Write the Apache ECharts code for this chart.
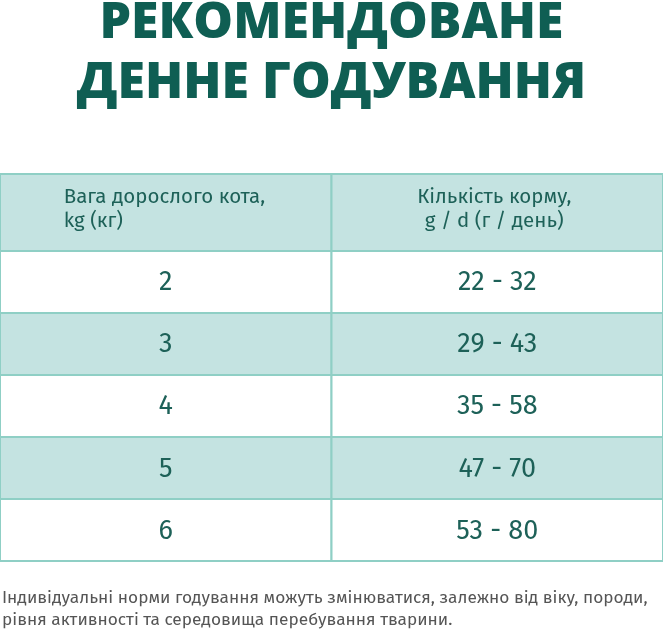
<!DOCTYPE html>
<html><head><meta charset="utf-8">
<script src="https://cdn.jsdelivr.net/npm/echarts@6/dist/echarts.min.js"></script>
<style>html,body{margin:0;padding:0;background:#fff}#c{width:663px;height:630px}</style>
</head><body><div id="c"></div>
<script>
const titleLines = ['РЕКОМЕНДОВАНЕ', 'ДЕННЕ ГОДУВАННЯ'];
const headers = ['Вага дорослого кота,\nkg (кг)', 'Кількість корму,\ng / d (г / день)'];
const weights = ['2', '3', '4', '5', '6'];
const minFood = [22, 29, 35, 47, 53];
const maxFood = [32, 43, 58, 70, 80];
const note = 'Індивідуальні норми годування можуть змінюватися, залежно від віку, породи,\nрівня активності та середовища перебування тварини.';

const HEADER_H = 1.24;
const cells = [];
headers.forEach((h, c) => cells.push([c, 0, HEADER_H, h, 1]));
weights.forEach((w, i) => {
  const y0 = HEADER_H + i, bg = i % 2;
  cells.push([0, y0, y0 + 1, w, bg]);
  cells.push([1, y0, y0 + 1, minFood[i] + ' - ' + maxFood[i], bg]);
});

const teal = '#1d6158';
const chart = echarts.init(document.getElementById('c'));
chart.setOption({
  animation: false,
  title: {
    text: titleLines.join('\n'), left: 'center', top: -11,
    textStyle: { fontFamily: 'Open Sans', fontWeight: 800, fontSize: 50, lineHeight: 60, color: '#0f5e53' }
  },
  graphic: [{
    type: 'text', left: 2, top: 587,
    style: { text: note, fontFamily: 'Fira Sans, Open Sans', fontSize: 17.3, lineHeight: 22, fill: '#555' }
  }],
  grid: { left: 0, right: 0, top: 174, bottom: 69 },
  xAxis: { type: 'value', min: 0, max: 2, show: false },
  yAxis: { type: 'value', min: 0, max: HEADER_H + 5, inverse: true, show: false },
  series: [{
    type: 'custom',
    data: cells,
    renderItem: function (params, api) {
      const c = api.value(0);
      const p0 = api.coord([c, api.value(1)]);
      const p1 = api.coord([c + 1, api.value(2)]);
      const isHeader = api.value(1) === 0;
      const txt = cells[params.dataIndex][3];
      const w = p1[0] - p0[0], h = p1[1] - p0[1];
      const children = [{
        type: 'rect',
        shape: { x: p0[0], y: p0[1], width: w, height: h },
        style: { fill: api.value(4) ? '#c4e3e1' : '#ffffff', stroke: '#8fcfc5', lineWidth: 2 }
      }];
      if (isHeader) {
        children.push({
          type: 'text',
          style: c === 0
            ? { text: txt, x: p0[0] + w / 2 - 102, y: p0[1] + h / 2 - 3, textVerticalAlign: 'middle',
                fontFamily: 'Fira Sans, Open Sans', fontSize: 20.5, lineHeight: 24, fill: teal }
            : { text: txt, x: p0[0] + w / 2 - 3, y: p0[1] + h / 2 - 3, textAlign: 'center', textVerticalAlign: 'middle',
                fontFamily: 'Fira Sans, Open Sans', fontSize: 20.5, lineHeight: 24, fill: teal }
        });
      } else {
        children.push({
          type: 'text',
          style: { text: txt, x: p0[0] + w / 2, y: p0[1] + h / 2 + 1, textAlign: 'center', textVerticalAlign: 'middle',
            fontFamily: 'Fira Sans, Open Sans', fontSize: 27, fill: teal }
        });
      }
      return { type: 'group', children: children };
    }
  }]
});
</script></body></html>
